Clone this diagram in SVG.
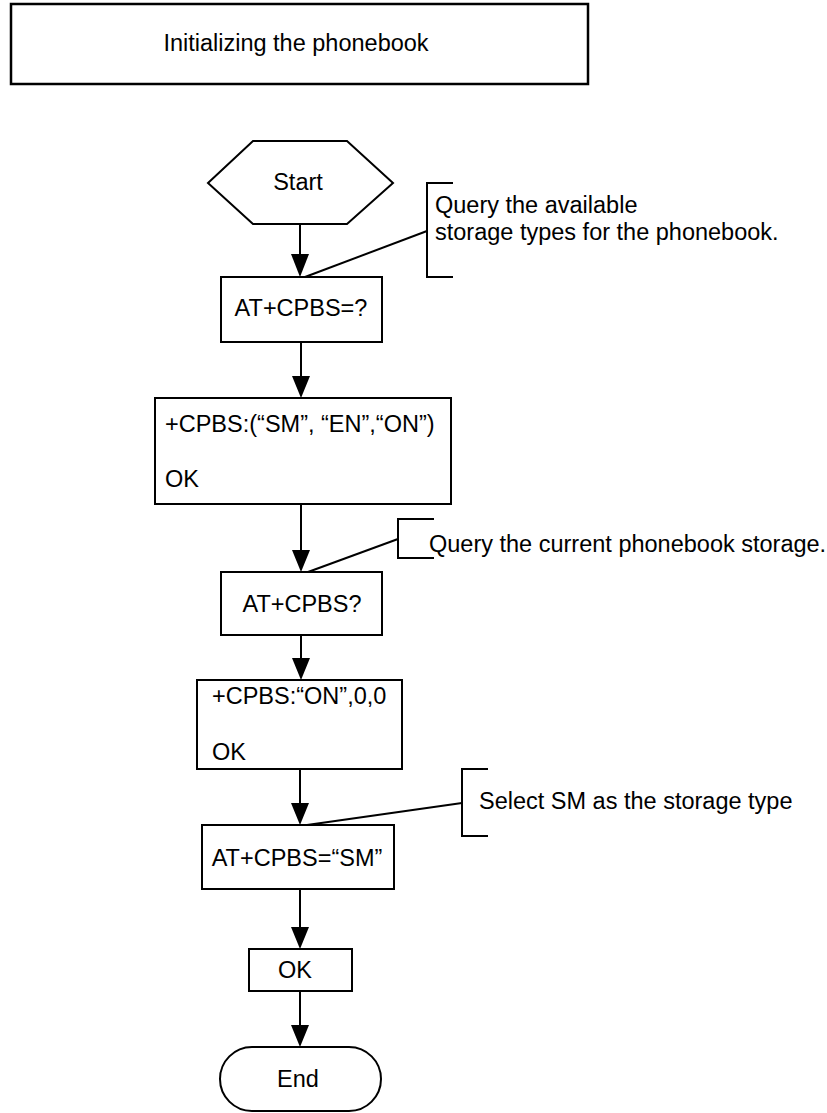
<svg xmlns="http://www.w3.org/2000/svg" width="827" height="1113" viewBox="0 0 827 1113">
<style>
.b{fill:#fff;stroke:#000;stroke-width:2}
.t{font-family:"Liberation Sans",Arial,sans-serif;font-size:23.5px;fill:#000}
.m{text-anchor:middle}
.c{fill:none;stroke:#000;stroke-width:2}
.h{fill:#000}
</style>
<g id="title"><rect class="b" x="11" y="4" width="577" height="80" style="stroke-width:2.5"/><text class="t m" x="296" y="51">Initializing the phonebook</text></g>
<g id="start"><polygon class="b" points="208,183 253,141 347,141 393,183 347,224 253,224"/><text class="t m" x="298" y="190">Start</text></g>
<g id="n1"><rect class="b" x="221" y="277" width="161" height="65"/><text class="t m" x="301" y="316">AT+CPBS=?</text></g>
<g id="n2"><rect class="b" x="155" y="398" width="296" height="106"/><text class="t" x="165" y="432">+CPBS:(“SM”, “EN”,“ON”)</text><text class="t" x="165" y="487">OK</text></g>
<g id="n3"><rect class="b" x="221" y="572" width="161" height="63"/><text class="t m" x="302" y="612">AT+CPBS?</text></g>
<g id="n4"><rect class="b" x="197" y="680" width="205" height="89"/><text class="t" x="212" y="704">+CPBS:“ON”,0,0</text><text class="t" x="212" y="760">OK</text></g>
<g id="n5"><rect class="b" x="202" y="825" width="192" height="64"/><text class="t m" x="297" y="866">AT+CPBS=“SM”</text></g>
<g id="n6"><rect class="b" x="249" y="949" width="103" height="42"/><text class="t m" x="295" y="978">OK</text></g>
<g id="end"><rect class="b" x="220" y="1047" width="161" height="64" rx="32" ry="32"/><text class="t m" x="298" y="1087">End</text></g>
<g id="note1"><path class="c" d="M453,183 H427 V277 H453"/><text class="t" x="435" y="213">Query the available</text><text class="t" x="435" y="240">storage types for the phonebook.</text></g>
<g id="note2"><path class="c" d="M434,519 H398 V558 H434"/><text class="t" x="429" y="552">Query the current phonebook storage.</text></g>
<g id="note3"><path class="c" d="M488,769 H462 V836 H488"/><text class="t" x="479" y="809">Select SM as the storage type</text></g>
<g id="connectors">
<path class="c" d="M300,224 V254"/><polygon class="h" points="291,254 309,254 300,277"/>
<path class="c" d="M301,342 V376"/><polygon class="h" points="292,376 310,376 301,398"/>
<path class="c" d="M301,504 V550"/><polygon class="h" points="292,550 310,550 301,572"/>
<path class="c" d="M301,635 V658"/><polygon class="h" points="292,658 310,658 301,680"/>
<path class="c" d="M300,769 V803"/><polygon class="h" points="291,803 309,803 300,825"/>
<path class="c" d="M300,889 V927"/><polygon class="h" points="291,927 309,927 300,949"/>
<path class="c" d="M300,991 V1025"/><polygon class="h" points="291,1025 309,1025 300,1047"/>
<path class="c" d="M305,277 L427,231"/>
<path class="c" d="M308,572 L398,539"/>
<path class="c" d="M307,825 L462,803"/>
</g>
</svg>
